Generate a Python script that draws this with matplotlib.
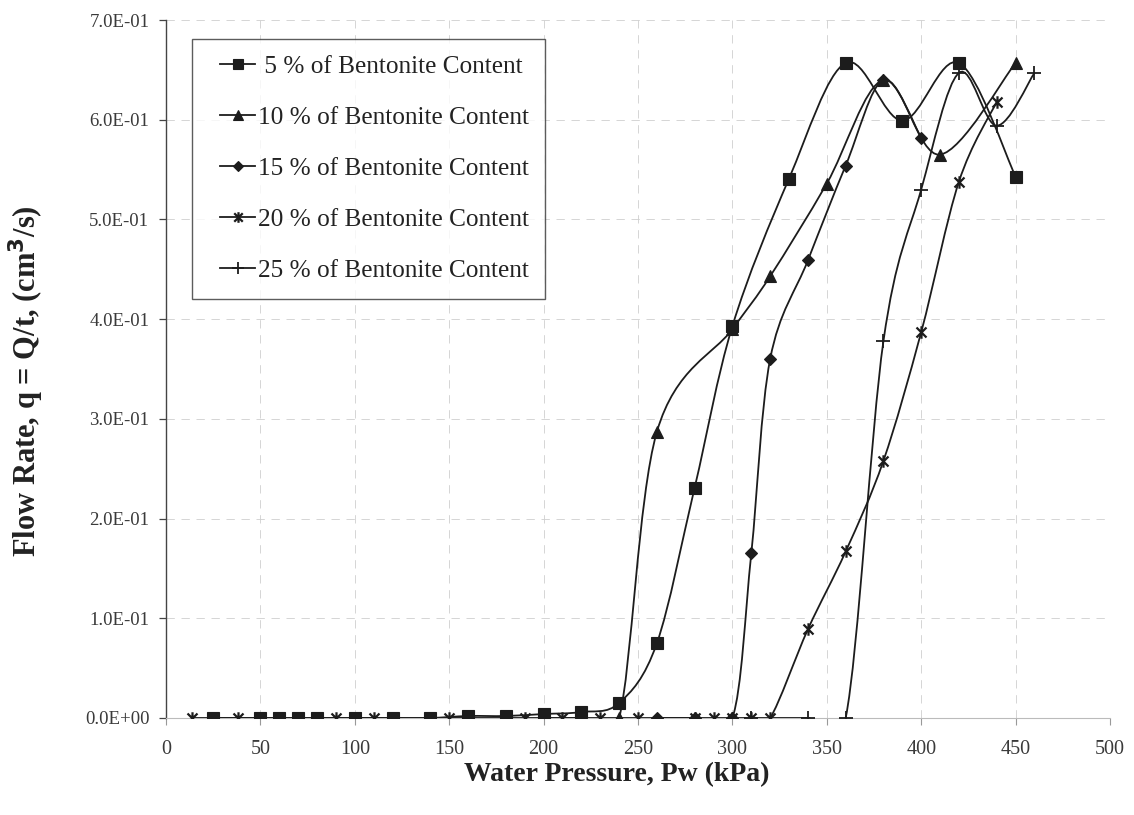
import numpy as np
import matplotlib
matplotlib.use("Agg")
import matplotlib.pyplot as plt
from matplotlib.path import Path
from matplotlib.patches import PathPatch
from matplotlib.lines import Line2D
from matplotlib.legend_handler import HandlerLine2D
from matplotlib.ticker import FuncFormatter

plt.rcParams['font.family'] = ['Liberation Serif', 'DejaVu Serif']

# Water pressure (kPa) and flow rate (cm^3/s) for each bentonite content
p5 = [25, 50, 60, 70, 80, 100, 120, 140, 160, 180, 200, 220, 240, 260, 280,
      300, 330, 360, 390, 420, 450]
q5 = [0.0, 0.0, 0.0, 0.0, 0.0, 0.0, 0.0, 0.0, 0.002, 0.002, 0.004, 0.006,
      0.015, 0.075, 0.231, 0.393, 0.541, 0.657, 0.599, 0.657, 0.543]

p10 = [200, 220, 240, 260, 300, 320, 350, 380, 410, 450]
q10 = [0.0, 0.0, 0.0, 0.287, 0.390, 0.443, 0.536, 0.640, 0.565, 0.657]

p15 = [260, 280, 300, 310, 320, 340, 360, 380, 400]
q15 = [0.0, 0.0, 0.0, 0.165, 0.360, 0.459, 0.554, 0.640, 0.582]

p20 = [14, 38, 90, 110, 150, 190, 210, 230, 250, 280, 290, 300, 310, 320,
       340, 360, 380, 400, 420, 440]
q20 = [0.0, 0.0, 0.0, 0.0, 0.0, 0.0, 0.0, 0.0, 0.0, 0.0, 0.0, 0.0, 0.0, 0.0,
       0.089, 0.167, 0.258, 0.387, 0.538, 0.618]

p25 = [310, 340, 360, 380, 400, 420, 440, 460]
q25 = [0.0, 0.0, 0.0, 0.378, 0.530, 0.647, 0.594, 0.647]

labels = [" 5 % of Bentonite Content", "10 % of Bentonite Content",
          "15 % of Bentonite Content", "20 % of Bentonite Content",
          "25 % of Bentonite Content"]

x_ticks = [0, 50, 100, 150, 200, 250, 300, 350, 400, 450, 500]
y_ticks = [0.0, 0.1, 0.2, 0.3, 0.4, 0.5, 0.6, 0.7]

INK = '#1c1c1c'

# asterisk-like marker: an X crossed by a vertical bar
star = Path([(-1, -1), (1, 1), (-1, 1), (1, -1), (0, -1.25), (0, 1.25)],
            [Path.MOVETO, Path.LINETO, Path.MOVETO, Path.LINETO,
             Path.MOVETO, Path.LINETO])

styles = [
    dict(marker='s', ms=8.0, mfc=INK, mec=INK, mew=0.8),
    dict(marker='^', ms=8.0, mfc=INK, mec=INK, mew=0.8),
    dict(marker='D', ms=6.0, mfc=INK, mec=INK, mew=0.8),
    dict(marker=star, ms=9.0, mfc='none', mec=INK, mew=1.6),
    dict(marker='+', ms=10.0, mfc='none', mec=INK, mew=1.3),
]


def smooth_path(x, y):
    """Cubic Bezier path through the points (Excel-style smoothed line)."""
    pts = np.column_stack([x, y]).astype(float)
    n = len(pts)
    verts = [pts[0]]
    codes = [Path.MOVETO]
    for i in range(n - 1):
        p0 = pts[i - 1] if i > 0 else pts[i]
        p1 = pts[i]
        p2 = pts[i + 1]
        p3 = pts[i + 2] if i + 2 < n else pts[i + 1]
        verts += [p1 + (p2 - p0) / 6.0, p2 - (p3 - p1) / 6.0, p2]
        codes += [Path.CURVE4] * 3
    return Path(verts, codes)


W, H = 1134, 815
fig = plt.figure(figsize=(W / 100, H / 100), dpi=100)
ax = fig.add_axes([166 / W, 97 / H, 944 / W, 698 / H])
ax.set_xlim(0, 500)
ax.set_ylim(0, 0.7)

all_series = [(p5, q5), (p10, q10), (p15, q15), (p20, q20), (p25, q25)]
handles = []
for (px, qy), st, lab in zip(all_series, styles, labels):
    patch = PathPatch(smooth_path(px, qy), facecolor='none', edgecolor=INK,
                      lw=1.3, zorder=3)
    ax.add_patch(patch)
    ax.plot(px, qy, linestyle='none', zorder=4, **st)
    hs = dict(st)
    hs['ms'] = st['ms'] * 0.85
    handles.append(Line2D([], [], color=INK, lw=1.3, label=lab, **hs))

# axes styling
ax.set_xticks(x_ticks)
ax.set_yticks(y_ticks)
ax.yaxis.set_major_formatter(FuncFormatter(lambda v, _: f"{v:.1E}"))
ax.grid(True, color='#cfcfcf', linestyle=(0, (10, 8)), linewidth=0.6)
ax.set_axisbelow(True)
for s in ('top', 'right'):
    ax.spines[s].set_visible(False)
ax.spines['left'].set_color('#444444')
ax.spines['left'].set_linewidth(1.0)
ax.spines['bottom'].set_color('#bbbbbb')
ax.spines['bottom'].set_linewidth(0.8)
ax.tick_params(axis='y', direction='out', length=5, width=0.9,
               color='#444444', labelcolor='#3a3a3a', labelsize=13.5, pad=7)
ax.tick_params(axis='x', direction='out', length=5, width=0.8,
               color='#999999', labelcolor='#3a3a3a', labelsize=14.5, pad=11)

ax.set_xlabel("Water Pressure, Pw (kPa)", fontsize=20, fontweight='bold',
              color='#222222')
ax.xaxis.set_label_coords((617 - 166) / 944, -(775 - 718) / 698)
ax.xaxis.label.set_va('center')
ax.set_ylabel("Flow Rate, q = Q/t, (cm$^{\\mathbf{3}}$/s)", fontsize=22,
              fontweight='bold', color='#222222')
ax.yaxis.set_label_coords((26 - 166) / 944, (718 - 381) / 698)
ax.yaxis.label.set_va('center')

leg = ax.legend(handles=handles, loc='upper left',
                bbox_to_anchor=((192 - 166) / 944, (718 - 39) / 698),
                borderaxespad=0, frameon=True, fancybox=False, shadow=False,
                fontsize=18.2, borderpad=0.65, labelspacing=1.12,
                handlelength=1.84, handletextpad=0.12,
                handler_map={Line2D: HandlerLine2D(numpoints=1, xpad=0.46)})
leg.get_frame().set_edgecolor('#333333')
leg.get_frame().set_linewidth(1.0)
for t in leg.get_texts():
    t.set_color('#222222')

fig.savefig("out.png", dpi=100, facecolor='white')
